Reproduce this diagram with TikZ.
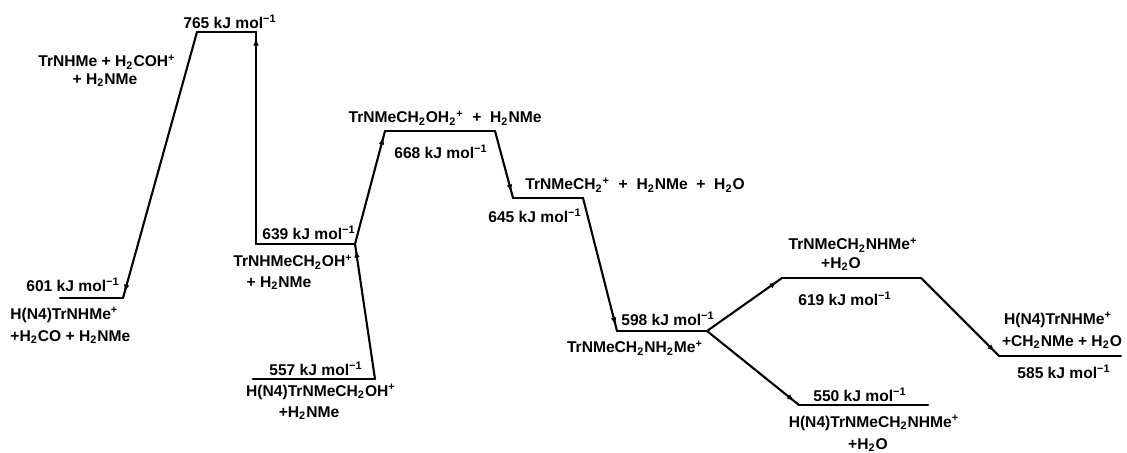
\documentclass[tikz,border=0pt]{standalone}
\usepackage{fontspec}
\setmainfont{Liberation Sans}
\usetikzlibrary{arrows.meta,decorations.markings}

% energy value with unit
\newcommand{\kjm}[1]{#1 kJ mol\textsuperscript{−1}}
\newcommand{\chd}[1]{\textsubscript{#1}}
\newcommand{\chu}[1]{\textsuperscript{#1}}

\begin{document}
\begin{tikzpicture}[x=0.5pt,y=-0.5pt,
  lvl/.style={line width=1.25pt, line cap=round},
  conn/.style={line width=1.05pt, line cap=round, postaction={decorate},
    decoration={markings, mark=at position -3pt with {\arrow{Latex[length=3.8pt,width=2.8pt]}}}},
  lbl/.style={font=\fontsize{7.8}{9.4}\selectfont\bfseries, inner sep=0pt}]

\fill[white] (0,0) rectangle (1127,453);
\useasboundingbox (0,0) rectangle (1127,453);

% level end points
\coordinate (e765a) at (197,32);  \coordinate (e765b) at (256,32);
\coordinate (e601a) at (60,298);  \coordinate (e601b) at (123,298);
\coordinate (e639a) at (256,244); \coordinate (e639b) at (355,244);
\coordinate (e557a) at (253,379); \coordinate (e557b) at (375,379);
\coordinate (e668a) at (385,131); \coordinate (e668b) at (495,131);
\coordinate (e645a) at (513,198); \coordinate (e645b) at (583,198);
\coordinate (e598a) at (617,331); \coordinate (e598b) at (707,331);
\coordinate (e619a) at (782,278); \coordinate (e619b) at (921,278);
\coordinate (e550a) at (799,405); \coordinate (e550b) at (928,405);
\coordinate (e585a) at (999,356); \coordinate (e585b) at (1121,356);

% energy levels
\foreach \v in {765,601,639,557,668,645,598,619,550,585}
  \draw[lvl] (e\v a) -- (e\v b);

% reaction steps
\draw[conn] (e765a) -- (e601b);
\draw[conn] (e639a) -- (e765b);
\draw[conn] (e557b) -- (e639b);
\draw[conn] (e639b) -- (e668a);
\draw[conn] (e668b) -- (e645a);
\draw[conn] (e645b) -- (e598a);
\draw[conn] (e598b) -- (e619a);
\draw[conn] (e598b) -- (e550a);
\draw[conn] (e619b) -- (e585a);

% labels
\node[lbl] (t765) at (230,22) {\kjm{765}};
\node[lbl] (s765a) at (107,62) {TrNHMe + H\chd{2}COH\chu{+}};
\node[lbl] (s765b) at (105,80) {+ H\chd{2}NMe};

\node[lbl] (t601) at (73,285) {\kjm{601}};
\node[lbl, anchor=west] (s601a) at (10,315) {H(N4)TrNHMe\chu{+}};
\node[lbl, anchor=west] (s601b) at (10,337) {+H\chd{2}CO + H\chd{2}NMe};

\node[lbl] (t639) at (309,233) {\kjm{639}};
\node[lbl] (s639a) at (293,262) {TrNHMeCH\chd{2}OH\chu{+}};
\node[lbl] (s639b) at (279,283) {+ H\chd{2}NMe};

\node[lbl] (t557) at (316,369) {\kjm{557}};
\node[lbl] (s557a) at (321,392) {H(N4)TrNMeCH\chd{2}OH\chu{+}};
\node[lbl] (s557b) at (309,413) {+H\chd{2}NMe};

\node[lbl] (s668) at (445,118) {TrNMeCH\chd{2}OH\chd{2}\chu{+}\ \ +\ \ H\chd{2}NMe};
\node[lbl] (t668) at (441,152) {\kjm{668}};

\node[lbl, anchor=west] (s645) at (525,185) {TrNMeCH\chd{2}\chu{+}\ \ +\ \ H\chd{2}NMe\ \ +\ \ H\chd{2}O};
\node[lbl] (t645) at (535,216) {\kjm{645}};

\node[lbl] (t598) at (668,319) {\kjm{598}};
\node[lbl] (s598) at (635,348) {TrNMeCH\chd{2}NH\chd{2}Me\chu{+}};

\node[lbl] (s619a) at (853,245) {TrNMeCH\chd{2}NHMe\chu{+}};
\node[lbl] (s619b) at (841,264) {+H\chd{2}O};
\node[lbl] (t619) at (845,299) {\kjm{619}};

\node[lbl] (t550) at (860,395) {\kjm{550}};
\node[lbl] (s550a) at (874,423) {H(N4)TrNMeCH\chd{2}NHMe\chu{+}};
\node[lbl] (s550b) at (868,445) {+H\chd{2}O};

\node[lbl] (s585a) at (1058,320) {H(N4)TrNHMe\chu{+}};
\node[lbl] (s585b) at (1062,342) {+CH\chd{2}NMe + H\chd{2}O};
\node[lbl] (t585) at (1064,372) {\kjm{585}};

\end{tikzpicture}
\end{document}
